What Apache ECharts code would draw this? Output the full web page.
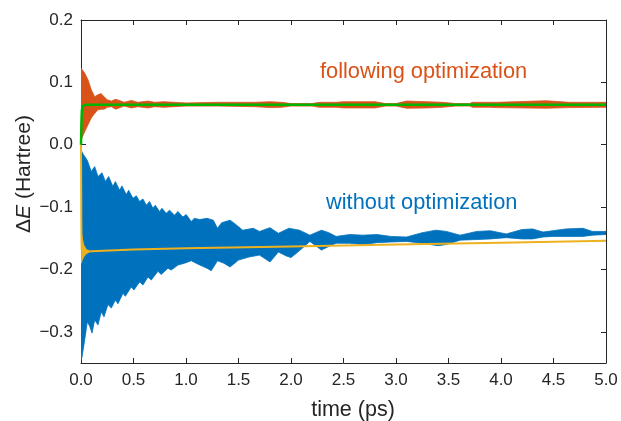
<!DOCTYPE html>
<html><head><meta charset="utf-8">
<script src="https://cdn.jsdelivr.net/npm/echarts@6/dist/echarts.min.js"></script>
<style>html,body{margin:0;padding:0;background:#fff}#c{width:621px;height:421px}</style>
</head><body><div id="c"></div>
<script>
// ---- data (time in ps, energy in Hartree) ----
const xTicks = [0, 0.5, 1, 1.5, 2, 2.5, 3, 3.5, 4, 4.5, 5];
const yTicks = [-0.3, -0.2, -0.1, 0, 0.1, 0.2];

// blue band: "without optimization" (upper and lower envelope)
const blueUpper = [[0,-0.008],[0.02,-0.015],[0.06,-0.025],[0.098,-0.043],[0.13,-0.035],[0.162,-0.051],[0.2,-0.045],[0.232,-0.059],[0.263,-0.051],[0.304,-0.067],[0.327,-0.059],[0.368,-0.073],[0.39,-0.066],[0.431,-0.080],[0.454,-0.073],[0.495,-0.086],[0.527,-0.082],[0.558,-0.091],[0.59,-0.087],[0.622,-0.097],[0.653,-0.091],[0.685,-0.102],[0.707,-0.097],[0.748,-0.107],[0.771,-0.102],[0.812,-0.110],[0.843,-0.105],[0.891,-0.113],[0.923,-0.107],[0.97,-0.116],[1.002,-0.112],[1.05,-0.123],[1.08,-0.118],[1.13,-0.120],[1.2,-0.118],[1.26,-0.121],[1.30,-0.134],[1.34,-0.125],[1.42,-0.121],[1.46,-0.126],[1.54,-0.137],[1.64,-0.134],[1.70,-0.139],[1.8,-0.133],[1.88,-0.142],[1.98,-0.134],[2.08,-0.137],[2.18,-0.145],[2.29,-0.137],[2.36,-0.141],[2.43,-0.147],[2.56,-0.144],[2.68,-0.145],[2.82,-0.144],[2.95,-0.147],[3.1,-0.148],[3.25,-0.141],[3.38,-0.137],[3.48,-0.139],[3.61,-0.145],[3.77,-0.139],[3.9,-0.138],[4.05,-0.143],[4.2,-0.136],[4.3,-0.135],[4.4,-0.140],[4.49,-0.138],[4.62,-0.135],[4.78,-0.134],[4.87,-0.139],[5.0,-0.139]];
const blueLower = [[0,-0.345],[0.01,-0.34],[0.035,-0.313],[0.06,-0.284],[0.083,-0.291],[0.105,-0.302],[0.13,-0.281],[0.162,-0.289],[0.193,-0.268],[0.219,-0.276],[0.257,-0.256],[0.289,-0.262],[0.327,-0.249],[0.352,-0.255],[0.40,-0.238],[0.422,-0.243],[0.479,-0.228],[0.504,-0.233],[0.558,-0.220],[0.59,-0.225],[0.637,-0.212],[0.669,-0.217],[0.733,-0.203],[0.764,-0.208],[0.828,-0.198],[0.859,-0.201],[0.923,-0.193],[0.986,-0.190],[1.05,-0.186],[1.12,-0.192],[1.2,-0.198],[1.24,-0.202],[1.3,-0.186],[1.36,-0.190],[1.42,-0.196],[1.5,-0.185],[1.6,-0.180],[1.7,-0.177],[1.8,-0.188],[1.88,-0.172],[1.95,-0.178],[2.0,-0.181],[2.08,-0.170],[2.18,-0.155],[2.29,-0.169],[2.36,-0.163],[2.43,-0.158],[2.56,-0.158],[2.68,-0.160],[2.82,-0.157],[2.95,-0.156],[3.1,-0.155],[3.25,-0.158],[3.4,-0.162],[3.48,-0.160],[3.61,-0.153],[3.77,-0.152],[3.9,-0.151],[4.05,-0.149],[4.2,-0.151],[4.3,-0.151],[4.4,-0.148],[4.49,-0.147],[4.62,-0.147],[4.78,-0.147],[4.87,-0.145],[5.0,-0.144]];

// orange band: "following optimization"
const orangeUpper = [[0,0.123],[0.035,0.115],[0.067,0.104],[0.098,0.088],[0.13,0.077],[0.16,0.080],[0.19,0.082],[0.22,0.077],[0.25,0.072],[0.29,0.070],[0.33,0.073],[0.38,0.070],[0.41,0.068],[0.48,0.071],[0.54,0.068],[0.64,0.070],[0.70,0.068],[0.79,0.069],[0.89,0.068],[1.0,0.067],[1.3,0.068],[1.66,0.068],[1.8,0.069],[1.91,0.068],[2.0,0.066],[2.2,0.066],[2.27,0.068],[2.43,0.068],[2.5,0.069],[2.8,0.069],[2.9,0.066],[3.0,0.066],[3.1,0.070],[3.3,0.069],[3.44,0.068],[3.57,0.066],[3.7,0.066],[3.73,0.068],[3.89,0.068],[3.96,0.068],[4.43,0.0705],[4.65,0.068],[4.96,0.068],[5.0,0.068]];
const orangeLower = [[0,0.0075],[0.035,0.021],[0.067,0.032],[0.098,0.043],[0.13,0.050],[0.16,0.056],[0.19,0.057],[0.22,0.057],[0.25,0.060],[0.29,0.061],[0.33,0.057],[0.38,0.060],[0.41,0.062],[0.48,0.059],[0.54,0.061],[0.64,0.059],[0.70,0.061],[0.79,0.060],[0.89,0.061],[1.0,0.062],[1.3,0.062],[1.66,0.061],[1.8,0.0595],[1.91,0.060],[2.0,0.062],[2.2,0.062],[2.27,0.060],[2.43,0.060],[2.5,0.059],[2.8,0.059],[2.9,0.062],[3.0,0.062],[3.1,0.0585],[3.3,0.059],[3.44,0.060],[3.57,0.062],[3.7,0.062],[3.73,0.060],[3.89,0.060],[3.96,0.0595],[4.43,0.0585],[4.65,0.0595],[4.96,0.060],[5.0,0.060]];

// green line (optimized mean)
const greenLine = [[0,0],[0.004,0.035],[0.008,0.055],[0.015,0.062],[0.04,0.064],[0.5,0.064],[1,0.064],[2,0.064],[3,0.064],[4,0.064],[5,0.064]];

// yellow line (unoptimized mean) plus its short initial spike
const yellowLine = [[0,0],[0.003,-0.12],[0.006,-0.168],[0.02,-0.172],[0.1,-0.171],[0.5,-0.168],[1,-0.166],[2,-0.163],[3,-0.160],[4,-0.157],[5,-0.154]];
const yellowSpikeUpper = [[0.003,-0.140],[0.01,-0.148],[0.025,-0.160],[0.05,-0.168],[0.08,-0.170]];
const yellowSpikeLower = [[0.003,-0.190],[0.01,-0.186],[0.025,-0.180],[0.05,-0.175],[0.08,-0.172]];

const labels = { x: 'time (ps)', yDelta: 'Δ', yE: 'E', yRest: ' (Hartree)', ann1: 'following optimization', ann2: 'without optimization' };

// ---- chart ----
const BLUE = '#0072BD', ORANGE = '#D95319', YELLOW = '#EDB120', GREEN = '#00B400', AX = '#262626';
const FONT = 'Liberation Sans, Arial, Helvetica, sans-serif';
const chart = echarts.init(document.getElementById('c'));

function band(name, upper, lower, color) {
  return {
    type: 'custom', name, coordinateSystem: 'cartesian2d', clip: true, silent: true,
    data: [upper[0]],
    renderItem(params, api) {
      const pts = upper.map(p => api.coord(p)).concat(lower.slice().reverse().map(p => api.coord(p)));
      return { type: 'polygon', shape: { points: pts }, style: { fill: color, stroke: color, lineWidth: 0.8 } };
    }
  };
}
function line(name, data, color, width) {
  return { type: 'line', name, data, showSymbol: false, symbol: 'none', silent: true, clip: true,
    lineStyle: { color, width }, itemStyle: { color }, animation: false };
}
const fmt = v => (v < -1e-9 ? '\u2212' : '') + Math.abs(v).toFixed(1);
const axLine = { show: true, onZero: false, lineStyle: { color: AX, width: 1 } };

chart.setOption({
  animation: false,
  backgroundColor: '#fff',
  grid: { left: 81, right: 15, top: 20, bottom: 58 },
  xAxis: [
    { type: 'value', min: 0, max: 5, interval: 0.5, position: 'bottom', axisLine: axLine,
      axisTick: { inside: true, length: 5, lineStyle: { color: AX } },
      axisLabel: { formatter: v => v.toFixed(1), color: AX, fontSize: 17, fontFamily: FONT, margin: 9, showMinLabel: true, showMaxLabel: true },
      splitLine: { show: false } },
    { type: 'value', min: 0, max: 5, interval: 0.5, position: 'top', axisLine: axLine,
      axisTick: { inside: true, length: 5, lineStyle: { color: AX } },
      axisLabel: { show: false }, splitLine: { show: false } }
  ],
  yAxis: [
    { type: 'value', min: -0.35, max: 0.2, position: 'left', axisLine: axLine,
      axisTick: { inside: true, length: 5, customValues: yTicks, lineStyle: { color: AX } },
      axisLabel: { customValues: yTicks, formatter: fmt, color: AX, fontSize: 17, fontFamily: FONT, margin: 8 },
      splitLine: { show: false } },
    { type: 'value', min: -0.35, max: 0.2, position: 'right', axisLine: axLine,
      axisTick: { inside: true, length: 5, customValues: yTicks, lineStyle: { color: AX } },
      axisLabel: { show: false }, splitLine: { show: false } }
  ],
  series: [
    band('without optimization', blueUpper, blueLower, BLUE),
    band('yellow spike', yellowSpikeUpper, yellowSpikeLower, YELLOW),
    line('unoptimized mean', yellowLine, YELLOW, 2),
    band('following optimization', orangeUpper, orangeLower, ORANGE),
    line('optimized mean', greenLine, GREEN, 2.5)
  ],
  graphic: [
    { type: 'text', x: 320, y: 72, silent: true,
      style: { text: labels.ann1, fill: ORANGE, font: '21.8px ' + FONT, verticalAlign: 'middle', align: 'left' } },
    { type: 'text', x: 326, y: 203, silent: true,
      style: { text: labels.ann2, fill: BLUE, font: '21.8px ' + FONT, verticalAlign: 'middle', align: 'left' } },
    { type: 'text', x: 353, y: 410, silent: true,
      style: { text: labels.x, fill: AX, font: '21.5px ' + FONT, verticalAlign: 'middle', align: 'center' } },
    { type: 'text', x: 24, y: 174, rotation: Math.PI / 2, silent: true,
      style: { text: '{n|' + labels.yDelta + '}{i|' + labels.yE + '}{n|' + labels.yRest + '}', fill: AX, verticalAlign: 'middle', align: 'center',
        rich: { n: { fontSize: 21, fontFamily: FONT, fill: AX }, i: { fontSize: 21, fontFamily: FONT, fontStyle: 'italic', fill: AX } } } }
  ]
});
</script></body></html>
